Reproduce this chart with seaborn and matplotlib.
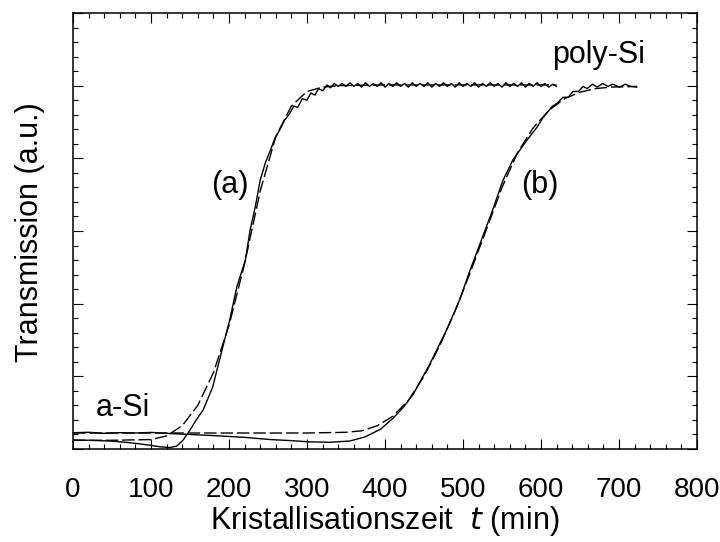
import numpy as np
import pandas as pd
import matplotlib
matplotlib.use("Agg")
import matplotlib.pyplot as plt
import seaborn as sns
from matplotlib.ticker import MultipleLocator, NullFormatter

# ---- data ----
a_sol_t = [0, 20, 47, 70, 86, 100, 112, 124, 133, 141, 150, 158, 167, 179, 191, 201, 210,
           221, 227, 234, 240, 247, 253, 259, 265, 271, 278, 283, 288, 294, 300, 305, 310,
           315, 320, 326, 330, 335, 340, 345, 350, 355, 360, 365, 370, 375, 380, 385, 390,
           395, 400, 405, 410, 415, 420, 425, 430, 435, 440, 445, 450, 455, 460, 465, 470,
           475, 480, 485, 490, 495, 500, 505, 510, 515, 520, 525, 530, 535, 540, 545, 550,
           555, 560, 565, 570, 575, 580, 585, 590, 595, 600, 605, 610, 615, 620]
a_sol_y = [0.124, 0.12, 0.11, 0.09, 0.07, 0.05, 0.03, 0.02, 0.04, 0.12, 0.26, 0.40, 0.54,
           0.85, 1.36, 1.78, 2.23, 2.60, 3.01, 3.35, 3.70, 3.95, 4.11, 4.28, 4.39, 4.52,
           4.62, 4.72, 4.70, 4.82, 4.80, 4.90, 4.87, 4.96, 4.93, 5.01, 4.97, 5.03, 4.99,
           5.03, 4.99, 5.04, 4.99, 5.03, 4.98, 5.04, 4.99, 5.03, 4.99, 5.04, 4.98, 5.03,
           4.99, 5.04, 4.99, 5.03, 4.98, 5.04, 4.99, 5.03, 4.99, 5.04, 4.98, 5.03, 4.99,
           5.04, 4.99, 5.03, 4.98, 5.04, 4.99, 5.03, 4.99, 5.04, 4.98, 5.03, 4.99, 5.04,
           4.99, 5.03, 4.98, 5.04, 4.99, 5.03, 4.99, 5.04, 4.98, 5.03, 4.99, 5.04, 4.99,
           5.03, 4.98, 5.02, 4.99]

a_fit_t = [0, 50, 100, 120, 140, 160, 180, 200, 220, 240, 260, 280, 300, 320, 340, 400, 500, 620]
a_fit_y = [0.12, 0.12, 0.13, 0.18, 0.32, 0.60, 1.05, 1.70, 2.55, 3.55, 4.30, 4.72, 4.92,
           4.98, 5.00, 5.01, 5.01, 5.01]

b_sol_t = [0, 20, 40, 60, 80, 100, 124, 150, 188, 220, 253, 280, 300, 329, 355, 374, 394,
           410, 424, 436, 458, 479, 496, 509, 522, 538, 551, 564, 582, 595, 602, 608, 614,
           621, 628, 635, 641, 648, 654, 659, 666, 672, 679, 686, 692, 701, 708, 715, 723]
b_sol_y = [0.224, 0.23, 0.215, 0.225, 0.22, 0.228, 0.213, 0.20, 0.18, 0.16, 0.13, 0.115,
           0.10, 0.092, 0.11, 0.165, 0.27, 0.42, 0.58, 0.75, 1.18, 1.64, 2.06, 2.46, 2.83,
           3.29, 3.69, 3.98, 4.25, 4.43, 4.55, 4.63, 4.71, 4.76, 4.84, 4.84, 4.92, 4.92,
           4.99, 4.96, 5.02, 4.98, 5.03, 4.99, 5.02, 4.98, 5.02, 4.99, 4.98]

b_fit_t = [0, 100, 200, 300, 350, 370, 390, 410, 430, 450, 470, 490, 510, 530, 550, 570,
           590, 610, 630, 650, 670, 690, 723]
b_fit_y = [0.22, 0.22, 0.22, 0.22, 0.23, 0.25, 0.32, 0.45, 0.67, 1.00, 1.42, 1.90, 2.45,
           3.02, 3.60, 4.08, 4.42, 4.66, 4.82, 4.91, 4.96, 4.98, 4.99]

x_ticks = [0, 100, 200, 300, 400, 500, 600, 700, 800]

# ---- style ----
sns.set_style("ticks")
plt.rcParams['font.family'] = ['Liberation Sans', 'DejaVu Sans']
plt.rcParams['text.color'] = 'black'
plt.rcParams['xtick.color'] = 'black'
plt.rcParams['ytick.color'] = 'black'
FS_T = 20
FS = 22

fig = plt.figure(figsize=(7.2, 5.42), dpi=100)
ax = fig.add_axes([73/720, 1 - 449/542, 624/720, 436/542])

dash = (0, (9, 2.8))
for t, y, ls in [(a_sol_t, a_sol_y, '-'), (a_fit_t, a_fit_y, dash),
                 (b_sol_t, b_sol_y, '-'), (b_fit_t, b_fit_y, dash)]:
    df = pd.DataFrame({'t': t, 'y': y})
    sns.lineplot(data=df, x='t', y='y', sort=False, ax=ax, color='black',
                 linewidth=1.0, linestyle=ls, estimator=None)

ax.set_xlim(0, 800)
ax.set_ylim(0, 6)
ax.set_xticks(x_ticks)
ax.set_xticklabels([str(v) for v in x_ticks], fontsize=FS_T)
ax.xaxis.set_minor_locator(MultipleLocator(20))
ax.yaxis.set_major_locator(MultipleLocator(1))
ax.yaxis.set_minor_locator(MultipleLocator(0.2))
ax.yaxis.set_major_formatter(NullFormatter())
ax.tick_params(which='both', direction='in', top=True, right=True, width=0.8,
               color='black', labelcolor='black')
ax.tick_params(which='major', length=7.5, pad=20)
ax.tick_params(which='minor', length=3.8)
for s in ax.spines.values():
    s.set_linewidth(1.1)
    s.set_color('black')

ax.set_xlabel('')
ax.set_ylabel('')
fig.text(385/720, 1 - 521/542, 'Kristallisationszeit  $\\it{t}$ (min)', ha='center', va='center',
         fontsize=FS)
fig.text(30/720, 1 - 232/542, 'Transmission (a.u.)', ha='center', va='center',
         rotation=90, fontsize=FS)

ax.text(201, 3.63, '(a)', ha='center', va='center', fontsize=FS)
ax.text(599, 3.63, '(b)', ha='center', va='center', fontsize=FS)
ax.text(674, 5.42, 'poly-Si', ha='center', va='center', fontsize=FS)
ax.text(64, 0.56, 'a-Si', ha='center', va='center', fontsize=FS)

fig.savefig('out.png', dpi=100)
